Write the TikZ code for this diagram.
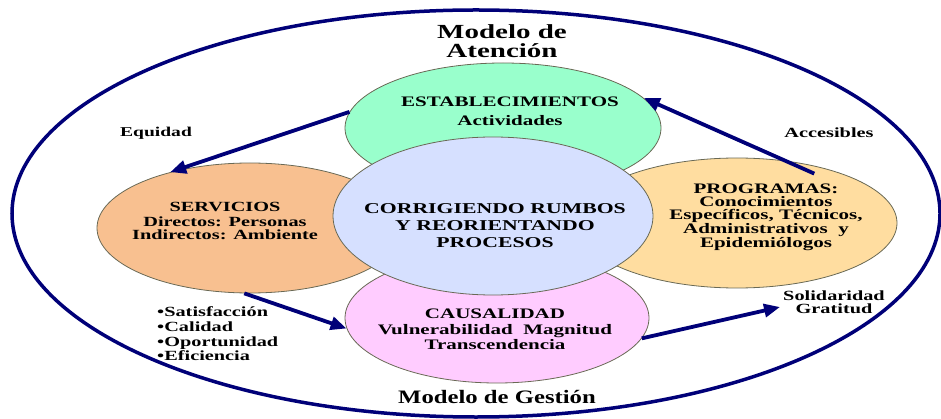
\documentclass[tikz,border=0pt]{standalone}
\usepackage{fontspec}
\setmainfont{Liberation Serif}[FakeStretch=1.45]
\newfontfamily\gestionfont{Liberation Serif}[FakeStretch=1.3]
\usetikzlibrary{shapes.geometric,arrows.meta}
\definecolor{marco}{RGB}{0,0,120}
\definecolor{verde}{RGB}{153,255,204}
\definecolor{naranja}{RGB}{248,192,144}
\definecolor{amarillo}{RGB}{255,221,160}
\definecolor{celeste}{RGB}{214,224,255}
\definecolor{rosa}{RGB}{255,204,255}
\definecolor{borde}{RGB}{105,105,85}
\newcommand{\tam}[2]{\fontsize{#1}{#2}\selectfont\bfseries}

\begin{document}
\begin{tikzpicture}
    [ x=1pt, y=-1pt,
      font={\bfseries},
      modelo/.style={ellipse, draw=marco, line width=3.5pt, inner sep=0pt,
                     minimum width=928pt, minimum height=407pt},
      bloque/.style={ellipse, draw=borde, line width=.8pt, inner sep=0pt,
                     minimum height=130pt},
      texto/.style={align=center, inner sep=0pt},
      flecha/.style={draw=marco, line width=3.8pt,
                     -{Triangle[length=16pt,width=13pt]}}
    ]
    \useasboundingbox (0,0) rectangle (941,419);

    % Outer frame
    \node[modelo] (marco) at (476,213.5) {};

    % Petals and centre
    \node[bloque, fill=verde, minimum width=316pt] (estab) at (503,128) {};
    \node[bloque, fill=naranja, minimum width=306pt] (serv) at (250,228) {};
    \node[bloque, fill=amarillo, minimum width=320pt] (prog) at (737,223) {};
    \node[bloque, fill=rosa, minimum width=304pt] (caus) at (497,318) {};
    \node[bloque, fill=celeste, minimum width=320pt, minimum height=158pt]
        (centro) at (493,216) {};

    % Texts in the ellipses
    \node[texto, font=\tam{14.5}{19}] (estabtxt) at (510,111)
        {ESTABLECIMIENTOS\\Actividades};
    \node[texto, font=\tam{14}{13.5}] (servtxt) at (225,221)
        {SERVICIOS\\[1pt]Directos: Personas\\Indirectos: Ambiente};
    \node[texto, font=\tam{15}{17}] (centrotxt) at (495,226)
        {CORRIGIENDO RUMBOS\\Y REORIENTANDO\\PROCESOS};
    \node[texto, font=\tam{14.5}{13}] (progtxt) at (766,217)
        {PROGRAMAS:\\Conocimientos\\Específicos, Técnicos,\\Administrativos~ y\\Epidemiólogos};
    \node[texto, font=\tam{14.5}{11.5}] (caustxt) at (495,329)
        {CAUSALIDAD\\[5pt]Vulnerabilidad~ Magnitud\\Transcendencia};

    % Model titles
    \node[texto, font=\tam{20}{19}] (atencion) at (502,41) {Modelo de\\Atención};
    \node[texto, font=\gestionfont\tam{19}{20}] (gestion) at (497,397)
        {Modelo de Gestión};

    % Labels around
    \node[texto, font=\tam{13.5}{16}] (equidad) at (156,133) {Equidad};
    \node[texto, font=\tam{14}{16}] (accesibles) at (829,133) {Accesibles};
    \node[texto, font=\tam{14}{12.5}] (solid) at (834,302) {Solidaridad\\Gratitud};
    \node[texto, font=\tam{14}{14.7}, align=left, anchor=west] (calidad) at (157,334)
        {•Satisfacción\\•Calidad\\•Oportunidad\\•Eficiencia};

    % Arrows
    \draw[flecha] (estab.174) -- (serv.145);
    \draw[flecha] ([xshift=-8pt,yshift=-6pt]prog.33) -- (estab.12);
    \draw[flecha] (serv.265) -- (caus.184);
    \draw[flecha] (caus.352) -- ([xshift=-3pt,yshift=-5pt]solid.west);

\end{tikzpicture}
\end{document}
